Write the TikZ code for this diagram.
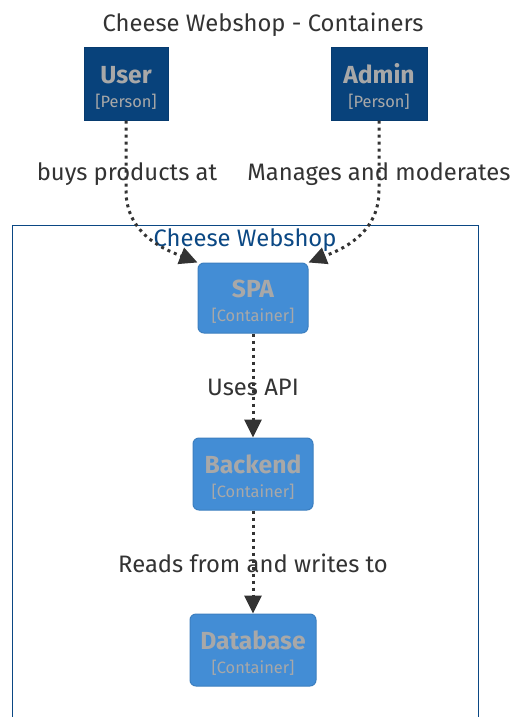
\documentclass[tikz,border=0pt]{standalone}
\usepackage{fontspec}
\setmainfont{Fira Sans}
\usetikzlibrary{arrows.meta}
\definecolor{person}{HTML}{08427B}
\definecolor{personline}{HTML}{073B6F}
\definecolor{cont}{HTML}{438DD5}
\definecolor{contline}{HTML}{3C7FC0}
\definecolor{boxtext}{HTML}{A8A8A8}
\definecolor{ink}{HTML}{333333}
\definecolor{boundary}{HTML}{0B4884}
\tikzset{
  boxbase/.style={line width=1pt, inner sep=0pt, align=center, text=boxtext,
    font=\fontsize{16.4}{25}\selectfont},
  personbox/.style={boxbase, draw=personline, fill=person, minimum height=72pt},
  contbox/.style={boxbase, draw=contline, fill=cont, rounded corners=6pt},
  rel/.style={draw=ink, line width=3pt, dash pattern=on 3pt off 4pt,
    -{Triangle[length=18pt,width=17pt]}},
  bigtext/.style={font=\fontsize{23.8}{28}\selectfont},
  rellabel/.style={bigtext, text=ink},
}
% element name, with a strut that sets the two lines a little lower in the box
\newcommand{\boxname}[1]{\rule{0pt}{24pt}{\fontsize{24.7}{25}\selectfont\bfseries #1}}
\begin{document}
\begin{tikzpicture}[x=1pt,y=-1pt]
  \useasboundingbox (0,0) rectangle (512,717);
  \fill[white] (0,0) rectangle (512,717);

  % title
  \node[bigtext, text=ink] (title) at (263,25) {Cheese Webshop - Containers};

  % system boundary
  \draw[boundary, line width=1pt] (12,740) -- (12,225) -- (478,225) -- (478,740);
  \node[bigtext, text=boundary] (blabel) at (245,240) {Cheese Webshop};

  % people
  \node[personbox, minimum width=84pt] (user) at (126,84) {\boxname{User}\\[-1pt][Person]};
  \node[personbox, minimum width=96pt] (admin) at (379,84) {\boxname{Admin}\\[-1pt][Person]};

  % containers
  \node[contbox, minimum width=110pt, minimum height=70pt] (spa) at (253,298) {\boxname{SPA}\\[-1pt][Container]};
  \node[contbox, minimum width=120pt, minimum height=72pt] (backend) at (253,474) {\boxname{Backend}\\[-1pt][Container]};
  \node[contbox, minimum width=126pt, minimum height=72pt] (db) at (253,650) {\boxname{Database}\\[-1pt][Container]};

  % relations
  \draw[rel] (user.south) -- ++(0,70) .. controls ++(0,45) and ++(-30,-12) .. (spa.north west);
  \draw[rel] (admin.south) -- ++(0,70) .. controls ++(0,45) and ++(30,-12) .. (spa.north east);
  \draw[rel] (spa.south) -- (backend.north);
  \draw[rel] (backend.south) -- (db.north);

  % relation labels
  \node[rellabel] (l1) at (127,174) {buys products at};
  \node[rellabel] (l2) at (379,174) {Manages and moderates};
  \node[rellabel] (l3) at (253,387) {Uses API};
  \node[rellabel] (l4) at (253,563) {Reads from and writes to};
\end{tikzpicture}
\end{document}
